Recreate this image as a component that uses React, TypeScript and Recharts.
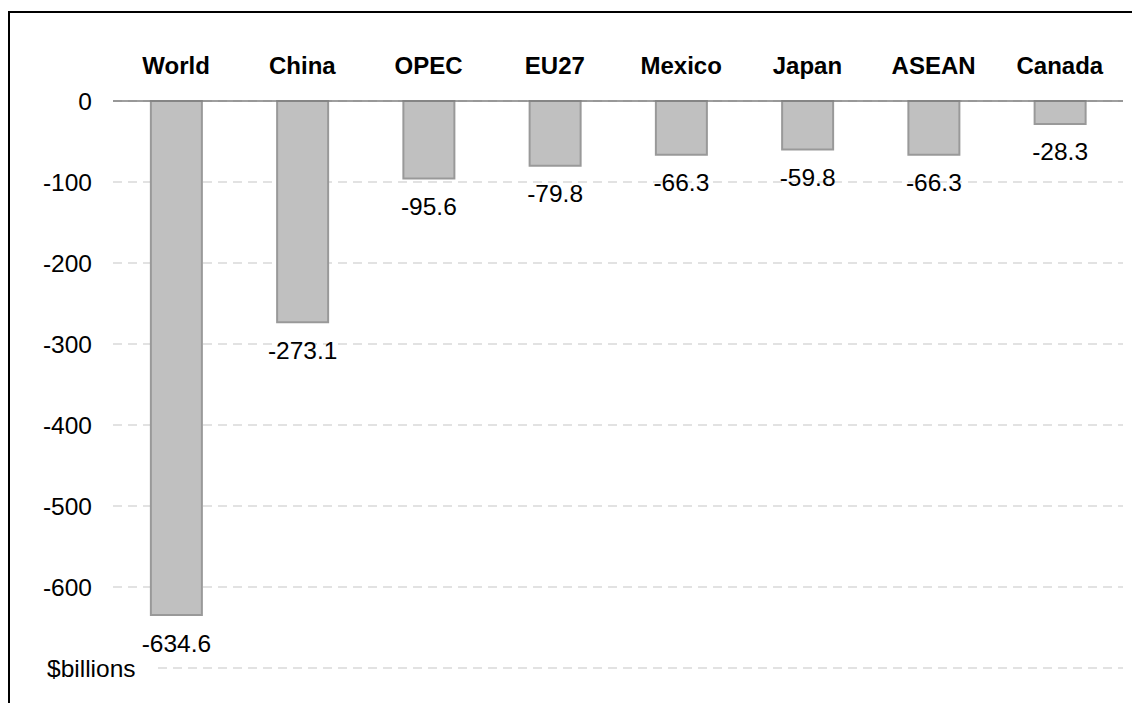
import React from 'react';
import { BarChart, Bar, XAxis, YAxis, CartesianGrid, LabelList } from 'recharts';

const categories = ['World', 'China', 'OPEC', 'EU27', 'Mexico', 'Japan', 'ASEAN', 'Canada'];
const deficits = [-634.6, -273.1, -95.6, -79.8, -66.3, -59.8, -66.3, -28.3];
const yTicks = [0, -100, -200, -300, -400, -500, -600, -700];
const unitLabel = '$billions';

const data = categories.map((name, i) => ({ name, value: deficits[i] }));

const FONT = '"Liberation Sans", Arial, Helvetica, sans-serif';

const XTick = (props: any) => {
  const { x, y, payload } = props;
  return (
    <text x={x} y={y - 27} textAnchor="middle" fontFamily={FONT} fontWeight="bold" fontSize={24} fill="#000">
      {payload.value}
    </text>
  );
};

const YTick = (props: any) => {
  const { x, y, payload } = props;
  if (payload.value === yTicks[yTicks.length - 1]) {
    return (
      <g>
        <rect x={30} y={y - 15} width={118} height={30} fill="#fff" />
        <text x={37} y={y} dominantBaseline="central" fontFamily={FONT} fontSize={24.5} fill="#000">
          {unitLabel}
        </text>
      </g>
    );
  }
  return (
    <text x={x} y={y} textAnchor="end" dominantBaseline="central" fontFamily={FONT} fontSize={24.5} fill="#000">
      {payload.value}
    </text>
  );
};

const ValueLabel = (props: any) => {
  const { x, y, width, height, value } = props;
  const end = Math.max(y, y + height);
  return (
    <text x={x + width / 2} y={end + 28} textAnchor="middle" dominantBaseline="central" fontFamily={FONT} fontSize={24.5} fill="#000">
      {Number(value).toFixed(1)}
    </text>
  );
};

export default function App() {
  return (
    <div style={{ paddingTop: 3 }}>
      <style>{'body{overflow:hidden}'}</style>
      <div style={{ borderLeft: '2px solid #000', borderTop: '2px solid #000', width: 1130, height: 690, background: '#fff' }}>
        <BarChart
          width={1130}
          height={690}
          data={data}
          margin={{ top: 0, right: 17, bottom: 35, left: 0 }}
          barCategoryGap="30%"
        >
          <CartesianGrid vertical={false} stroke="#c6c6c6" strokeDasharray="9 6" strokeWidth={1.2} />
          <XAxis
            dataKey="name"
            orientation="top"
            height={88}
            tickLine={false}
            tickSize={0}
            tickMargin={0}
            axisLine={{ stroke: '#7f7f7f', strokeWidth: 1.5 }}
            tick={<XTick />}
            interval={0}
          />
          <YAxis
            type="number"
            domain={[-700, 0]}
            ticks={yTicks}
            width={103}
            tickLine={false}
            tickSize={0}
            tickMargin={21}
            axisLine={false}
            tick={<YTick />}
            interval={0}
          />
          <Bar dataKey="value" fill="#c0c0c0" stroke="#999999" strokeWidth={2} isAnimationActive={false}>
            <LabelList dataKey="value" content={<ValueLabel />} />
          </Bar>
        </BarChart>
      </div>
    </div>
  );
}
